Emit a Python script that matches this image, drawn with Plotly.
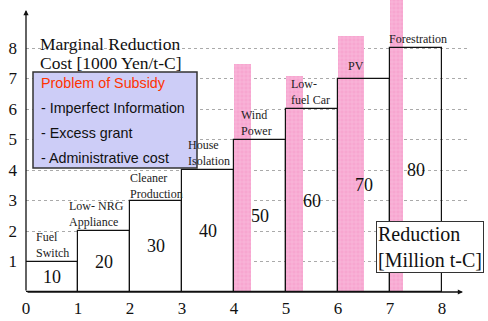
import plotly.graph_objects as go

# ---- data ----
measures = ["Fuel<br>Switch", "Low- NRG<br>Appliance", "Cleaner<br>Production", "House<br>Isolation",
            "Wind<br>Power", "Low-<br>fuel Car", "PV", "Forestration"]
reduction_start = [0, 1, 2, 3, 4, 5, 6, 7]
reduction_width = [1, 1, 1, 1, 1, 1, 1, 1]
marginal_cost = [1, 2, 3, 4, 5, 6, 7, 8]
value_labels = ["10", "20", "30", "40", "50", "60", "70", "80"]

subsidy_start = [4, 5, 6, 7]
subsidy_width = [0.33, 0.32, 0.5, 0.25]
subsidy_height = [7.48, 7.08, 8.39, 10.0]

x_ticks = [0, 1, 2, 3, 4, 5, 6, 7, 8]
y_ticks = [1, 2, 3, 4, 5, 6, 7, 8]

box_lines = ["Problem of Subsidy", "- Imperfect Information", "- Excess grant", "- Administrative cost"]

SERIF = "Liberation Serif"
SANS = "Liberation Sans"

X0, Y0, PXX, PXY = 26, 292, 52, 30.5   # plot origin (px) and px per unit


def dx(px):
    return (px - X0) / PXX


def dy(py):
    return (Y0 - py) / PXY


fig = go.Figure()

# pink subsidy columns
fig.add_trace(go.Bar(
    x=[s + w / 2 for s, w in zip(subsidy_start, subsidy_width)],
    y=subsidy_height, width=subsidy_width,
    marker=dict(color="#f7a6d0", line=dict(width=0),
                pattern=dict(shape="+", fgcolor="#fcd6ea", bgcolor="#f7a6d0",
                             size=4, solidity=0.25, fillmode="overlay")),
    showlegend=False, hoverinfo="skip"))

# marginal cost steps
fills = ["white"] * 4 + ["rgba(0,0,0,0)"] * 4
fig.add_trace(go.Bar(
    x=[s + w / 2 for s, w in zip(reduction_start, reduction_width)],
    y=marginal_cost, width=reduction_width,
    marker=dict(color=fills, line=dict(color="#111111", width=1.2)),
    showlegend=False, hoverinfo="skip"))

ann = []
# value labels inside bars
for s, w, c, t in zip(reduction_start, reduction_width, marginal_cost, value_labels):
    ann.append(dict(x=s + w / 2, y=c / 2, text=t, showarrow=False,
                    font=dict(family=SERIF, size=18, color="#111"), xanchor="center", yanchor="middle"))

# measure labels above bars
label_dx = [0.17, -0.19, -0.02, 0.1, 0.12, 0.08, 0.17, -0.04]
label_shift = [1, 1, -1, 1, 1, 1, 5, 1]
for s, c, t, ddx, sh in zip(reduction_start, marginal_cost, measures, label_dx, label_shift):
    ann.append(dict(x=s + ddx, y=c, text=t, showarrow=False, align="left",
                    font=dict(family=SERIF, size=12, color="#222"),
                    xanchor="left", yanchor="bottom", yshift=sh, borderpad=0))

# title of y axis (two lines)
for t, py in zip(["Marginal Reduction", "Cost [1000 Yen/t-C]"], [44, 63]):
    ann.append(dict(x=dx(38), y=dy(py), text=t, showarrow=False,
                    xanchor="left", yanchor="middle",
                    font=dict(family=SERIF, size=17.5, color="#111")))

# box text
for i, (t, py) in enumerate(zip(box_lines, [83, 108, 133, 158])):
    ann.append(dict(x=dx(39), y=dy(py), text=t, showarrow=False, xanchor="left", yanchor="middle",
                    font=dict(family=SANS, size=14.3, color="#ff3300" if i == 0 else "#111")))

# x axis title box
ann.append(dict(x=dx(430), y=dy(247), text="Reduction<br>[Million t-C]", showarrow=False,
                align="left", xanchor="center", yanchor="middle",
                font=dict(family=SERIF, size=20, color="#111"),
                bgcolor="white", bordercolor="#333", borderwidth=1, borderpad=1))

# axis arrows
ann.append(dict(x=0, y=dy(10), ax=0, ay=0, xref="x", yref="y", axref="x", ayref="y",
                showarrow=True, arrowhead=2, arrowsize=0.8, arrowwidth=1.3, arrowcolor="#111", text=""))
ann.append(dict(x=dx(463), y=0, ax=0, ay=0, xref="x", yref="y", axref="x", ayref="y",
                showarrow=True, arrowhead=2, arrowsize=0.8, arrowwidth=1.3, arrowcolor="#111", text=""))

# page number
ann.append(dict(x=dx(458), y=dy(313), text="32", showarrow=False,
                font=dict(family=SERIF, size=8, color="#333")))

fig.update_layout(
    width=488, height=321,
    margin=dict(l=X0, r=20, t=0, b=321 - Y0, autoexpand=False),
    paper_bgcolor="white", plot_bgcolor="white",
    barmode="overlay", bargap=0,
    annotations=ann,
    shapes=[dict(type="rect", xref="x", yref="y", x0=dx(33), x1=dx(197), y0=dy(168), y1=dy(72),
                 fillcolor="#cdcdf7", line=dict(color="#333", width=1.5), layer="above")],
    xaxis=dict(range=[0, dx(468)], tickvals=x_ticks, ticktext=[str(v) for v in x_ticks],
               showgrid=False, zeroline=False, showline=False, ticks="", automargin=False,
               tickfont=dict(family=SERIF, size=17, color="#111"), ticklabelstandoff=4),
    yaxis=dict(range=[0, dy(0)], tickvals=y_ticks, ticktext=[str(v) for v in y_ticks],
               showgrid=True, gridcolor="#aaaaaa", griddash="dot", gridwidth=1,
               zeroline=False, showline=False, ticks="", automargin=False,
               tickfont=dict(family=SERIF, size=17, color="#111"), ticklabelstandoff=8),
)

fig.write_html("out.html", config={"displayModeBar": False},
               post_script="document.body.style.margin='0';document.body.style.overflow='hidden';")
